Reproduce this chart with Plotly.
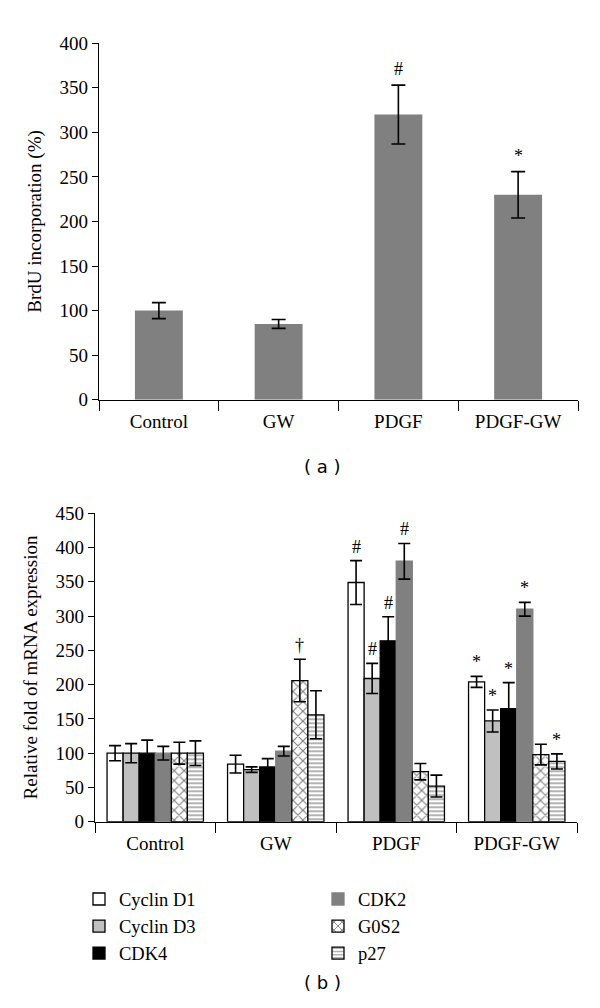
import plotly.graph_objects as go

# ---------------- data ----------------
groups = ["Control", "GW", "PDGF", "PDGF-GW"]

# panel (a): BrdU incorporation (%)
brdu_mean = [100, 85, 320, 230]
brdu_err = [9, 5, 33, 26]
brdu_marks = ["", "", "#", "*"]

# panel (b): relative fold of mRNA expression
genes = ["Cyclin D1", "Cyclin D3", "CDK4", "CDK2", "G0S2", "p27"]
cyclin_d1 = [100, 84, 349, 204]
cyclin_d1_err = [11, 13, 32, 8]
cyclin_d3 = [100, 76, 209, 147]
cyclin_d3_err = [14, 4, 22, 16]
cdk4 = [100, 80, 264, 165]
cdk4_err = [19, 12, 35, 38]
cdk2 = [100, 103, 380, 310]
cdk2_err = [10, 7, 26, 10]
g0s2 = [100, 206, 73, 98]
g0s2_err = [16, 31, 12, 15]
p27 = [100, 156, 52, 88]
p27_err = [18, 35, 16, 11]

series_vals = [cyclin_d1, cyclin_d3, cdk4, cdk2, g0s2, p27]
series_errs = [cyclin_d1_err, cyclin_d3_err, cdk4_err, cdk2_err, g0s2_err, p27_err]
# significance marks: (gene index, group index, symbol)
sig_marks = [
    (4, 1, "†"),
    (0, 2, "#"), (1, 2, "#"), (2, 2, "#"), (3, 2, "#"),
    (0, 3, "*"), (1, 3, "*"), (2, 3, "*"), (3, 3, "*"), (5, 3, "*"),
]

# ---------------- styles ----------------
SERIF = "Liberation Serif, Times New Roman, serif"
SANS = "DejaVu Sans, Verdana, sans-serif"
fills = ["white", "#c0c0c0", "black", "#808080", "white", "white"]
patterns = ["", "", "", "", "x", "-"]
line_cols = ["black", "black", "black", "#808080", "black", "black"]

fig = go.Figure()

# panel (a)
fig.add_trace(go.Bar(
    x=groups, y=brdu_mean, width=0.4,
    marker=dict(color="#808080", line=dict(width=0)),
    error_y=dict(type="data", array=brdu_err, color="black", thickness=1.6, width=7),
    xaxis="x", yaxis="y", showlegend=False,
))

# panel (b)
for i, g in enumerate(genes):
    mk = dict(color=fills[i], line=dict(color=line_cols[i], width=1.3))
    if patterns[i]:
        mk["pattern"] = dict(shape=patterns[i], fgcolor="black", bgcolor="white",
                             size=7 if patterns[i] == "x" else 4, solidity=0.3)
    fig.add_trace(go.Bar(
        x=groups, y=series_vals[i], name=g, marker=mk,
        error_y=dict(type="data", array=series_errs[i], color="black", thickness=1.6, width=6),
        xaxis="x2", yaxis="y2",
        legend="legend" if i < 3 else "legend2",
    ))

annotations = []
for gi, m in enumerate(brdu_marks):
    if m:
        annotations.append(dict(x=gi, y=brdu_mean[gi] + brdu_err[gi], xref="x", yref="y",
                                text=m, showarrow=False, yanchor="bottom", yshift=4,
                                font=dict(family=SERIF, size=18, color="black")))
nb = len(genes)
for si, gi, m in sig_marks:
    off = -0.4 + (si + 0.5) * 0.8 / nb
    annotations.append(dict(x=gi + off, y=series_vals[si][gi] + series_errs[si][gi],
                            xref="x2", yref="y2", text=m, showarrow=False,
                            yanchor="bottom", yshift=2,
                            font=dict(family=SERIF, size=18, color="black")))
annotations.append(dict(x=322 / 600, y=1 - 466 / 1008, xref="paper", yref="paper",
                        text="( a )", showarrow=False, yanchor="middle",
                        font=dict(family=SANS, size=18, color="black")))
annotations.append(dict(x=322 / 600, y=1 - 993 / 1008, xref="paper", yref="paper",
                        text="( b )", showarrow=False, yanchor="middle",
                        font=dict(family=SANS, size=18, color="black")))

axis_common = dict(showline=True, linecolor="black", linewidth=1.3, showgrid=False,
                   zeroline=False, ticks="outside", tickcolor="black",
                   tickfont=dict(family=SERIF, size=19, color="black"))

fig.update_layout(
    width=600, height=1008,
    margin=dict(l=0, r=0, t=0, b=0),
    paper_bgcolor="white", plot_bgcolor="white",
    barmode="group", bargap=0.2, bargroupgap=0,
    xaxis=dict(domain=[99 / 600, 578 / 600], anchor="y", tickson="boundaries",
               ticklen=10, ticklabelstandoff=4, **axis_common),
    yaxis=dict(domain=[1 - 398 / 1008, 1 - 34 / 1008], anchor="x", range=[0, 400],
               dtick=50, ticklen=6,
               title=dict(text="BrdU incorporation (%)", standoff=12,
                          font=dict(family=SERIF, size=19, color="black")),
               **axis_common),
    xaxis2=dict(domain=[95 / 600, 577 / 600], anchor="y2", tickson="boundaries",
                ticklen=10, ticklabelstandoff=4, **axis_common),
    yaxis2=dict(domain=[1 - 829 / 1008, 1 - 514 / 1008], anchor="x2", range=[0, 450],
                dtick=50, ticklen=6,
                title=dict(text="Relative fold of mRNA expression", standoff=12,
                           font=dict(family=SERIF, size=19, color="black")),
                **axis_common),
    legend=dict(x=79 / 600, y=1 - 889 / 1008, xanchor="left", yanchor="top",
                orientation="v", bgcolor="rgba(0,0,0,0)", tracegroupgap=0,
                font=dict(family=SERIF, size=18.5, color="black"), itemwidth=30),
    legend2=dict(x=318 / 600, y=1 - 889 / 1008, xanchor="left", yanchor="top",
                 orientation="v", bgcolor="rgba(0,0,0,0)", tracegroupgap=0,
                 font=dict(family=SERIF, size=18.5, color="black"), itemwidth=30),
    annotations=annotations,
)

fig.write_html("out.html", config={"displayModeBar": False},
               post_script="document.body.style.margin='0';document.body.style.overflow='hidden';")
